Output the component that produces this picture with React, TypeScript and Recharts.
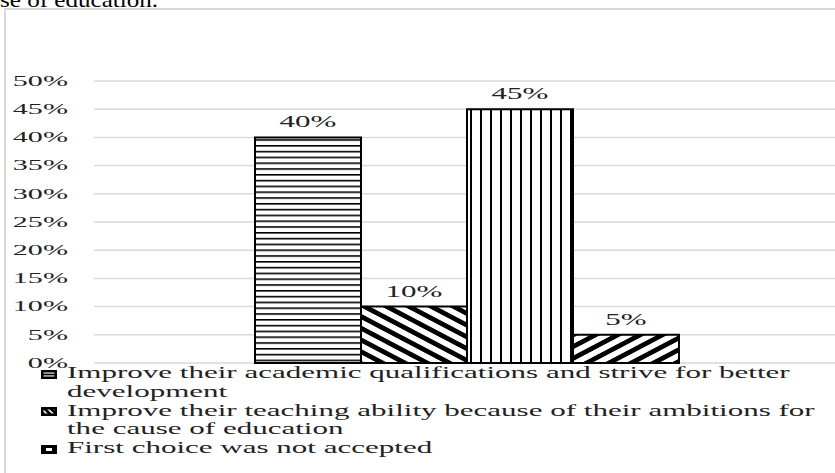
import * as React from 'react';
import { BarChart, Bar, XAxis, YAxis, CartesianGrid, Legend, LabelList } from 'recharts';

// series shown as bars inside one category
const seriesNames = [
    'Improve their academic qualifications and strive for better development',
    'Improve their teaching ability because of their ambitions for the cause of education',
    'First choice was not accepted',
    'Other'
];
const seriesValues = [0.40, 0.10, 0.45, 0.05];
const seriesPatterns = ['hLines', 'backDiag', 'vLines', 'fwdDiag'];
const yTicks = [0, 0.05, 0.10, 0.15, 0.20, 0.25, 0.30, 0.35, 0.40, 0.45, 0.50];
const legendCount = 3; // the 4th legend row is cut off in the original

const tableRow: any = { category: '' };
seriesValues.forEach((v, i) => { tableRow['s' + i] = v; });
const tableRows = [tableRow];

const serif = '"Liberation Serif", "Times New Roman", serif';
const ink = '#222';

const pct = (v: number) => Math.round(v * 100) + '%';

function YTick(props: any) {
    const { x, y, payload } = props;
    return (
        <text transform={`translate(${x},${y + 4.7}) scale(2.15,1)`} textAnchor="end"
            fontSize={14} fontFamily={serif} fill={ink}>
            {pct(payload.value)}
        </text>
    );
}

function TopLabel(props: any) {
    const { x, y, width, value } = props;
    return (
        <text transform={`translate(${x + width / 2},${y - 10}) scale(1.88,1)`} textAnchor="middle"
            fontSize={16.5} fontFamily={serif} fill={ink}>
            {pct(value)}
        </text>
    );
}

function LegendBox() {
    return (
        <div style={{ width: 835, fontFamily: serif, fontSize: 16.5, lineHeight: '18.8px', color: ink, textAlign: 'left' }}>
            {seriesNames.slice(0, legendCount).map((name, i) => (
                <div key={i} style={{ position: 'relative', paddingLeft: 67 }}>
                    <svg width={16} height={9} style={{ position: 'absolute', left: 41, top: 5.5 }}>
                        <rect x={1.25} y={1.25} width={13.5} height={6.5} fill={`url(#${seriesPatterns[i]}Icon)`}
                            stroke="#000" strokeWidth={2.5} />
                    </svg>
                    <div style={{ width: 412, transform: 'scaleX(1.88)', transformOrigin: 'left top' }}>{name}</div>
                </div>
            ))}
        </div>
    );
}

export default function App() {
    return (
        <div style={{ position: 'absolute', left: 0, top: 0, width: 835, height: 473, overflow: 'hidden', background: '#fff' }}>
            <div style={{
                position: 'absolute', left: 0, top: -11.5, fontFamily: serif, fontSize: 22, lineHeight: '22px',
                color: '#000', whiteSpace: 'nowrap', transform: 'scaleX(1.14)', transformOrigin: 'left top'
            }}>
                se of education.
            </div>
            <div style={{
                position: 'absolute', left: 4, top: 8, width: 900, height: 600,
                borderLeft: '2px solid #d9d9d9', borderTop: '2px solid #d9d9d9'
            }} />
            <div style={{ position: 'absolute', left: 0, top: 0 }}>
                <BarChart width={835} height={473} data={tableRows} barGap={0} barSize={106}
                    margin={{ top: 81, right: -5, bottom: 110, left: 0 }}>
                    <defs>
                        <pattern id="hLines" patternUnits="userSpaceOnUse" width={10} height={5.8}>
                            <rect width={10} height={5.8} fill="#fff" />
                            <rect width={10} height={1.6} fill="#000" />
                        </pattern>
                        <pattern id="vLines" patternUnits="userSpaceOnUse" width={10} height={10}>
                            <rect width={10} height={10} fill="#fff" />
                            <rect width={2} height={10} fill="#000" />
                        </pattern>
                        <pattern id="backDiag" patternUnits="userSpaceOnUse" width={8.3} height={8.3}
                            patternTransform="scale(1.9,1) rotate(-45)">
                            <rect width={8.3} height={8.3} fill="#fff" />
                            <rect width={3.8} height={8.3} fill="#000" />
                        </pattern>
                        <pattern id="fwdDiag" patternUnits="userSpaceOnUse" width={8.3} height={8.3}
                            patternTransform="scale(1.9,1) rotate(45)">
                            <rect width={8.3} height={8.3} fill="#fff" />
                            <rect width={3.8} height={8.3} fill="#000" />
                        </pattern>
                        <pattern id="hLinesIcon" patternUnits="userSpaceOnUse" width={4} height={9}>
                            <rect width={4} height={9} fill="#fff" />
                            <rect y={3.6} width={4} height={1.8} fill="#000" />
                        </pattern>
                        <pattern id="backDiagIcon" patternUnits="userSpaceOnUse" width={4.5} height={4.5}
                            patternTransform="rotate(-45)">
                            <rect width={4.5} height={4.5} fill="#fff" />
                            <rect width={2.8} height={4.5} fill="#000" />
                        </pattern>
                        <pattern id="vLinesIcon" patternUnits="userSpaceOnUse" width={16} height={9}>
                            <rect width={16} height={9} fill="#000" />
                            <rect x={5} y={3} width={6} height={3} fill="#fff" />
                        </pattern>
                    </defs>
                    <CartesianGrid vertical={false} stroke="#d9d9d9" strokeWidth={1.5} />
                    <XAxis dataKey="category" hide />
                    <YAxis domain={[0, 0.5]} ticks={yTicks} width={94} axisLine={false} tickLine={false}
                        tickSize={0} tickMargin={26} tick={<YTick />} />
                    <Legend layout="vertical" align="center" verticalAlign="middle" content={<LegendBox />}
                        wrapperStyle={{ top: 364, left: 0, width: 835 }} />
                    {seriesNames.map((name, i) => (
                        <Bar key={i} dataKey={'s' + i} name={name} fill={`url(#${seriesPatterns[i]})`}
                            stroke="#000" strokeWidth={2} isAnimationActive={false}>
                            <LabelList dataKey={'s' + i} content={<TopLabel />} />
                        </Bar>
                    ))}
                </BarChart>
            </div>
        </div>
    );
}
